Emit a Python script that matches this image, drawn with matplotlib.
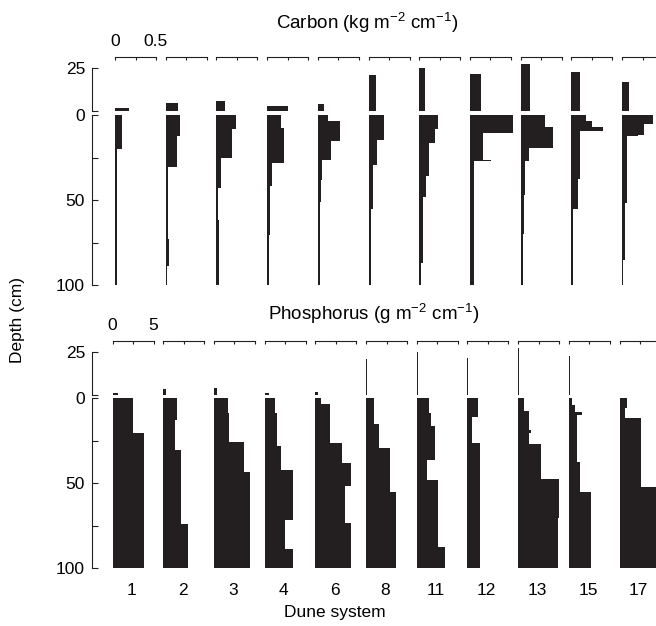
import matplotlib.pyplot as plt

plt.rcParams['font.family'] = ['Liberation Sans', 'DejaVu Sans']
plt.rcParams['mathtext.fontset'] = 'custom'
plt.rcParams['mathtext.rm'] = 'Liberation Sans'
plt.rcParams['mathtext.it'] = 'Liberation Sans:italic'

INK = '#231f20'

# Dune systems (columns)
systems = ['1', '2', '3', '4', '6', '8', '11', '12', '13', '15', '17']

# Carbon: organic layer (above mineral soil) thickness (cm) and value
carbon_org_thick = [1.5, 4.7, 5.8, 2.9, 4.1, 21.0, 25.2, 21.7, 27.9, 23.1, 17.2]
carbon_org_val = [0.17, 0.15, 0.10, 0.25, 0.08, 0.09, 0.07, 0.134, 0.12, 0.11, 0.09]
# Carbon: mineral soil layer bottoms (cm) and values (kg m-2 cm-1)
carbon_depths = [
    [20.2, 100],
    [12.2, 30.4, 73.0, 89.0, 100],
    [8.2, 25.0, 43.0, 61.6, 100],
    [7.8, 28.4, 42.0, 70.6, 100],
    [3.3, 15.3, 26.5, 38.2, 50.9, 73.0, 100],
    [14.9, 29.2, 55.1, 100],
    [8.4, 16.3, 36.1, 48.2, 86.9, 100],
    [10.4, 26.3, 27.3, 100],
    [7.1, 19.4, 27.3, 47.3, 70.2, 100],
    [3.7, 7.1, 9.4, 37.5, 55.1, 100],
    [5.3, 11.8, 12.4, 52.0, 85.0, 100],
]
carbon_vals = [
    [0.08, 0.022],
    [0.18, 0.134, 0.03, 0.044, 0.018],
    [0.244, 0.195, 0.05, 0.022, 0.032],
    [0.17, 0.20, 0.065, 0.037, 0.024],
    [0.12, 0.27, 0.16, 0.057, 0.04, 0.032, 0.022],
    [0.19, 0.10, 0.057, 0.03],
    [0.23, 0.19, 0.12, 0.077, 0.049, 0.024],
    [0.52, 0.154, 0.256, 0.045],
    [0.30, 0.40, 0.106, 0.057, 0.045, 0.033],
    [0.18, 0.25, 0.39, 0.106, 0.08, 0.024],
    [0.378, 0.27, 0.195, 0.06, 0.033, 0.018],
]

# Phosphorus: organic layer thickness (cm) and value
phos_org_thick = [1.3, 3.3, 4.0, 1.3, 2.0, 21.1, 25.2, 22.0, 27.5, 22.7, 17.0]
phos_org_val = [0.65, 0.4, 0.33, 0.57, 0.28, 0.12, 0.12, 0.12, 0.12, 0.12, 0.12]
# Phosphorus: mineral soil layer bottoms (cm) and values (g m-2 cm-1)
phos_depths = [
    [20.4, 100],
    [12.9, 30.6, 74.3, 100],
    [8.8, 25.7, 43.3, 100],
    [9.0, 28.2, 42.4, 71.8, 89.0, 100],
    [3.5, 26.7, 38.4, 52.0, 73.5, 100],
    [15.5, 29.6, 55.1, 100],
    [8.6, 16.5, 36.7, 48.2, 87.5, 100],
    [11.0, 26.7, 100],
    [7.6, 18.8, 20.4, 27.3, 47.5, 70.8, 100],
    [4.3, 8.2, 9.8, 37.6, 55.3, 100],
    [6.0, 12.0, 52.2, 100],
]
phos_vals = [
    [2.44, 3.82],
    [1.63, 1.46, 2.2, 2.97],
    [1.7, 1.9, 3.7, 4.45],
    [1.3, 1.5, 2.0, 3.46, 2.44, 3.46],
    [0.75, 1.85, 3.3, 4.3, 3.6, 4.3],
    [1.0, 1.55, 2.97, 3.7],
    [1.5, 1.79, 2.24, 1.22, 2.56, 3.46],
    [1.34, 0.53, 1.5],
    [0.69, 1.34, 1.55, 1.34, 2.8, 5.0, 4.88],
    [0.33, 0.73, 1.63, 1.06, 1.34, 2.68],
    [0.93, 0.69, 2.64, 4.6],
]

W, H = 656, 626
fig = plt.figure(figsize=(W / 100, H / 100), dpi=100)


def rect(x0, y0, x1, y1):
    # pixel box (origin top-left) -> figure fraction
    return [x0 / W, 1 - y1 / H, (x1 - x0) / W, (y1 - y0) / H]


def draw_panel(org_t, org_v, depths, vals, full, ticklabels, left0,
               bracket_y, top25, org_bot, min0, min100, names=False):
    px_cm = (min100 - min0) / 100
    ytop = (top25 - min0) / px_cm
    gap = (org_bot - min0) / px_cm
    for i, name in enumerate(systems):
        x0 = left0 + i * 50.7
        ax = fig.add_axes(rect(x0, top25, x0 + 41, min100))
        ax.patch.set_visible(False)
        ax.set_xlim(0, full)
        ax.set_ylim(100, ytop)
        # organic layer drawn above the mineral soil
        ax.barh(gap - org_t[i], org_v[i], height=org_t[i], align='edge',
                color=INK, linewidth=0, clip_on=False)
        tops = [0] + depths[i][:-1]
        heights = [b - t for t, b in zip(tops, depths[i])]
        ax.barh(tops, vals[i], height=heights, align='edge',
                color=INK, linewidth=0, clip_on=False)
        for s in ['left', 'right', 'bottom']:
            ax.spines[s].set_visible(False)
        ax.spines['top'].set_position(('outward', (top25 - bracket_y) * 0.72))
        ax.spines['top'].set_bounds(0, full)
        ax.spines['top'].set_color(INK)
        ax.spines['top'].set_linewidth(0.8)
        ax.set_yticks([])
        ax.xaxis.set_ticks_position('top')
        ax.set_xticks([0, full / 2, full])
        ax.tick_params(axis='x', direction='in', length=2.5, width=0.8,
                       color=INK, labelsize=12.5, pad=6)
        if i == 0:
            ax.set_xticklabels([ticklabels[0], '', ticklabels[1]])
        else:
            ax.set_xticklabels(['', '', ''])
        if names:
            ax.annotate(name, xy=(0.47 * full, 0), xycoords=('data', 'axes fraction'),
                        xytext=(0, -11), textcoords='offset points',
                        ha='center', va='top', fontsize=12.5)

    # depth scale: organic part and mineral part
    up = fig.add_axes(rect(92, top25, 112, org_bot))
    lo = fig.add_axes(rect(92, min0, 112, min100))
    up.set_ylim(0, 25)
    up.set_yticks([0, 25])
    up.set_yticklabels(['', '25'])
    lo.set_ylim(100, 0)
    lo.set_yticks([0, 25, 50, 75, 100])
    lo.set_yticklabels(['0', '', '50', '', '100'])
    for a in (up, lo):
        a.patch.set_visible(False)
        for s in ['top', 'right', 'bottom']:
            a.spines[s].set_visible(False)
        a.spines['left'].set_color(INK)
        a.spines['left'].set_linewidth(0.8)
        a.set_xticks([])
        a.tick_params(axis='y', direction='in', length=4.5, width=0.8,
                      color=INK, labelsize=12.5, pad=5)


draw_panel(carbon_org_thick, carbon_org_val, carbon_depths, carbon_vals,
           0.5, ['0', '0.5'], 115, 57, 68, 111, 115, 285)
draw_panel(phos_org_thick, phos_org_val, phos_depths, phos_vals,
           5, ['0', '5'], 112.5, 341, 352, 395, 398, 568, names=True)

fig.text(367 / W, 1 - 23 / H, 'Carbon (kg m$^{-2}$ cm$^{-1}$)',
         ha='center', va='center', fontsize=13.5)
fig.text(374 / W, 1 - 314 / H, 'Phosphorus (g m$^{-2}$ cm$^{-1}$)',
         ha='center', va='center', fontsize=13.5)
fig.text(18 / W, 1 - 320 / H, 'Depth (cm)', rotation=90,
         ha='center', va='center', fontsize=12.5)
fig.text(335 / W, 1 - 612 / H, 'Dune system', ha='center', va='center',
         fontsize=12.5)

fig.savefig('out.png', dpi=100)
